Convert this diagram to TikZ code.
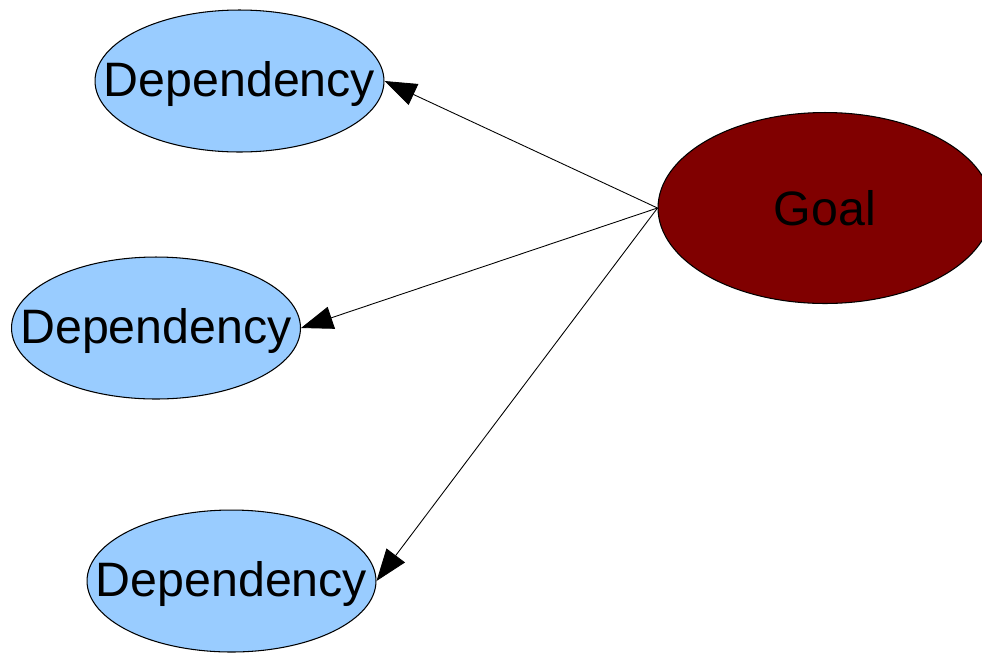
\documentclass[tikz,border=0pt]{standalone}
\usepackage{fontspec}
\setmainfont{Liberation Sans}
\usepackage{tikz}
\usetikzlibrary{shapes.geometric}
\usetikzlibrary{arrows.meta}
\usetikzlibrary{positioning, calc}
\definecolor{depblue}{HTML}{99CCFF}
\definecolor{goalred}{HTML}{800000}

\tikzset{
    depnode/.style={ellipse, draw, fill=depblue, line width=0.6pt, inner xsep=-3cm, inner ysep=0pt,
        minimum width=5.78cm, minimum height=2.84cm, text depth=2pt,
        font=\fontsize{27.5}{30}\selectfont},
    goalnode/.style={ellipse, draw, fill=goalred, line width=0.6pt, inner sep=0pt,
        minimum width=6.68cm, minimum height=3.82cm, font=\fontsize{27.5}{30}\selectfont},
    deparrow/.style={line width=0.5pt, -{Triangle[length=0.64cm, width=0.46cm]}}
}

\begin{document}
\begin{tikzpicture}[x=0.02cm, y=-0.02cm]
    \useasboundingbox (0,0) rectangle (982,653);

    \node[goalnode] (goal) at (825,208) {Goal};

    \foreach \n/\x/\y in {
        1/239.5/81,
        2/156/328,
        3/231.5/581}
        \node[depnode] (dep\n) at (\x,\y) {Dependency};

    % arrows from the goal to each dependency
    \foreach \n in {1,2,3}
        \draw[deparrow] (goal.west) -- (dep\n.east);

\end{tikzpicture}
\end{document}
